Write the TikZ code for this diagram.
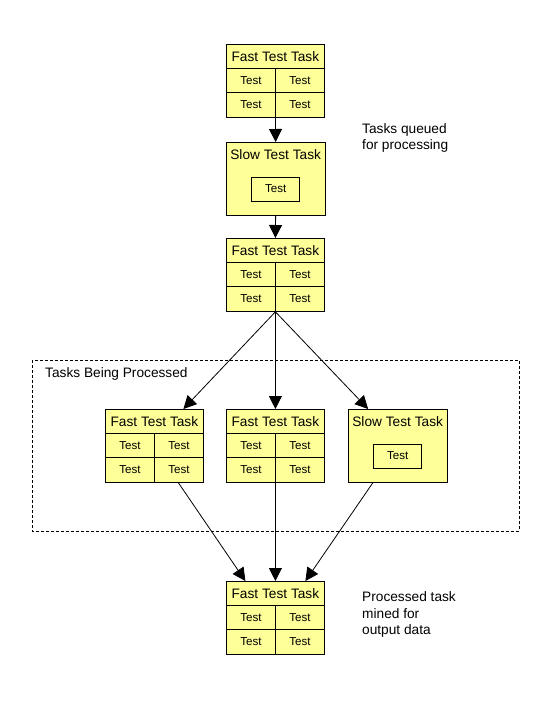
\documentclass[tikz,border=0pt]{standalone}
\usepackage{fontspec}
\setmainfont{Liberation Sans}
\usetikzlibrary{arrows.meta,calc}
\definecolor{taskfill}{RGB}{255,255,153}
\tikzset{
  taskbox/.style={draw=black, fill=taskfill, line width=0.8pt, inner sep=0pt, anchor=north west},
  titletext/.style={inner sep=0pt, font=\fontsize{13.7}{16}\selectfont},
  testtext/.style={inner sep=0pt, font=\fontsize{11.6}{13}\selectfont},
  innerbox/.style={draw=black, line width=0.8pt, inner sep=0pt, minimum width=48pt, minimum height=24pt, font=\fontsize{11.6}{13}\selectfont},
  labeltext/.style={inner sep=0pt, anchor=west, align=left, font=\fontsize{13.7}{16.5}\selectfont},
  cellline/.style={draw=black, line width=0.8pt},
  flow/.style={draw=black, line width=0.8pt, -{Triangle[width=13pt,length=13pt]}},
  groupbox/.style={draw=black, line width=0.8pt, dash pattern=on 3pt off 2pt}
}
\newcommand\fastbox[3]{%
  \node[taskbox, minimum width=98pt, minimum height=73pt] (#1) at (#2,#3) {};
  \node[titletext] (#1-t) at ([yshift=-12.5pt]#1.north) {Fast Test Task};
  \draw[cellline] ([yshift=-24.5pt]#1.north west) -- ([yshift=-24.5pt]#1.north east);
  \draw[cellline] ([yshift=-48.5pt]#1.north west) -- ([yshift=-48.5pt]#1.north east);
  \draw[cellline] ([yshift=-24.5pt]#1.north) -- (#1.south);
  \node[testtext] (#1-a) at ([xshift=-24.5pt,yshift=-36.5pt]#1.north) {Test};
  \node[testtext] (#1-b) at ([xshift=24.5pt,yshift=-36.5pt]#1.north) {Test};
  \node[testtext] (#1-c) at ([xshift=-24.5pt,yshift=-60.5pt]#1.north) {Test};
  \node[testtext] (#1-d) at ([xshift=24.5pt,yshift=-60.5pt]#1.north) {Test};
}
\newcommand\slowbox[3]{%
  \node[taskbox, minimum width=98.5pt, minimum height=72.5pt] (#1) at (#2,#3) {};
  \node[titletext] (#1-t) at ([yshift=-12.5pt]#1.north) {Slow Test Task};
  \node[innerbox] (#1-i) at ([yshift=-47pt]#1.north) {Test};
}
\begin{document}
\begin{tikzpicture}[x=1pt,y=-1pt]
\path[use as bounding box] (0,0) rectangle (554,714);
\draw[groupbox] (32,360) rectangle (519,531);
\node[titletext, anchor=west] (grouplabel) at (45,374) {Tasks Being Processed};

\fastbox{fastA}{226}{44}
\slowbox{slowA}{226}{142}
\fastbox{fastB}{226}{238}
\fastbox{fastL}{105}{409}
\fastbox{fastM}{226}{409}
\slowbox{slowR}{348}{409}
\fastbox{fastOut}{226}{581}

\node[labeltext] (queued) at (362,138) {Tasks queued\\for processing};
\node[labeltext] (mined) at (362,614.5) {Processed task\\mined for\\output data};

\draw[flow] (fastA.south) -- (slowA.north);
\draw[flow] (slowA.south) -- (fastB.north);
\draw[flow] (fastB.south) -- ([xshift=29pt]fastL.north);
\draw[flow] (fastB.south) -- (fastM.north);
\draw[flow] (fastB.south) -- ([xshift=-29.5pt]slowR.north);
\draw[flow] ([xshift=24pt]fastL.south) -- ([xshift=-30pt]fastOut.north);
\draw[flow] (fastM.south) -- (fastOut.north);
\draw[flow] ([xshift=-24.5pt]slowR.south) -- ([xshift=30pt]fastOut.north);
\end{tikzpicture}
\end{document}
